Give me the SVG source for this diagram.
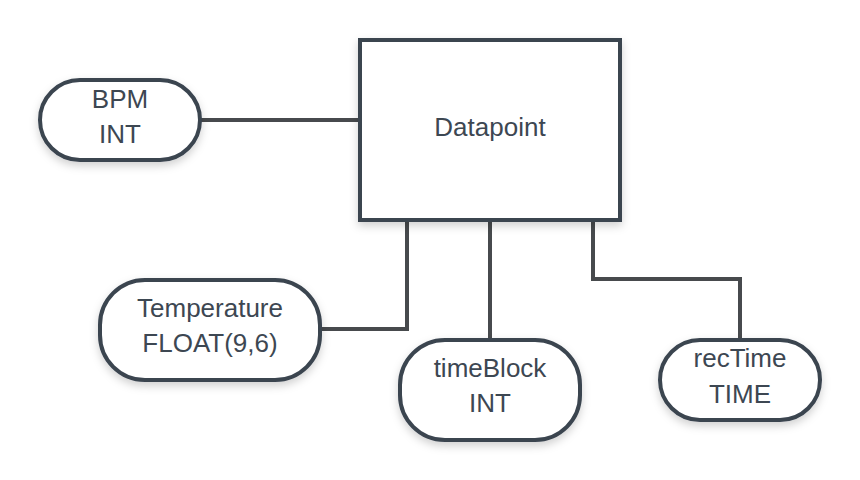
<svg xmlns="http://www.w3.org/2000/svg" width="860" height="480" viewBox="0 0 860 480">
<defs>
<filter id="sh" x="-20%" y="-20%" width="140%" height="150%">
<feDropShadow dx="0" dy="4" stdDeviation="4" flood-color="#000" flood-opacity="0.18"/>
</filter>
</defs>
<style>
.n{fill:#fff;stroke:#3a4450;stroke-width:4;filter:url(#sh)}
.t{font-family:"Liberation Sans",Arial,sans-serif;font-size:26px;fill:#3d4752;text-anchor:middle}
.c{fill:none;stroke:#474a4d;stroke-width:4}
</style>
<rect width="860" height="480" fill="#fff"/>
<g id="connectors">
<path class="c" d="M200,120 H360"/>
<path class="c" d="M320,329 H407 V220"/>
<path class="c" d="M490,220 V340"/>
<path class="c" d="M593,220 V279 H740 V340"/>
</g>
<g id="datapoint">
<rect class="n" x="360" y="40" width="260" height="180"/>
<text class="t" x="490" y="136">Datapoint</text>
</g>
<g id="bpm">
<rect class="n" x="40" y="80" width="160" height="80" rx="40"/>
<text class="t" x="120" y="108">BPM</text>
<text class="t" x="120" y="143">INT</text>
</g>
<g id="temperature">
<rect class="n" x="100" y="280" width="220" height="100" rx="45"/>
<text class="t" x="210" y="317">Temperature</text>
<text class="t" x="210" y="352">FLOAT(9,6)</text>
</g>
<g id="timeblock">
<rect class="n" x="400" y="340" width="180" height="100" rx="45"/>
<text class="t" x="490" y="377">timeBlock</text>
<text class="t" x="490" y="412">INT</text>
</g>
<g id="rectime">
<rect class="n" x="660" y="340" width="160" height="80" rx="40"/>
<text class="t" x="740" y="367">recTime</text>
<text class="t" x="740" y="403">TIME</text>
</g>
</svg>
